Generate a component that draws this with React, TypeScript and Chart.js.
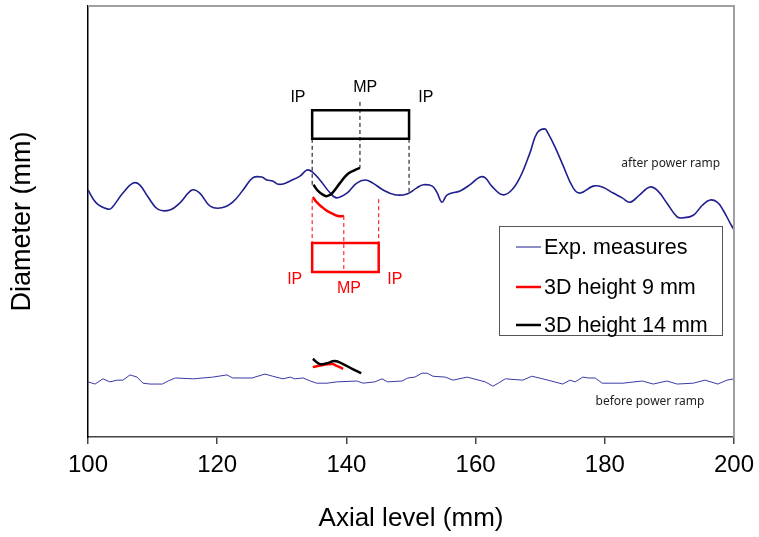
import { useEffect, useRef } from "react";
import { Chart, registerables } from "chart.js";

Chart.register(...registerables);

// Measured diameter profile after the power ramp (axial level in mm, diameter in relative units)
const afterAxial = [100.0, 101.3, 103.1, 103.7, 105.4, 107.0, 108.0, 109.3, 110.8, 112.7, 114.2, 116.1, 117.3, 118.9, 120.7, 122.4, 124.0, 125.5, 126.9, 127.7, 128.6, 129.3, 130.2, 131.3, 132.8, 133.9, 134.7, 135.9, 137.5, 138.5, 140.1, 141.6, 142.9, 144.1, 145.7, 147.5, 149.4, 150.9, 151.9, 153.3, 154.0, 154.8, 155.6, 157.6, 159.1, 160.7, 161.5, 162.5, 164.2, 165.6, 166.9, 168.4, 169.5, 170.7, 171.2, 172.3, 173.5, 175.1, 176.2, 178.2, 179.6, 181.3, 182.7, 183.9, 185.4, 187.0, 188.2, 189.6, 191.2, 192.1, 193.7, 195.1, 196.3, 197.4, 198.3, 199.4, 200.0];
const afterDiam = [57.6, 54.6, 53.2, 53.5, 56.9, 59.2, 58.8, 56.0, 53.2, 53.0, 54.6, 57.6, 56.9, 53.9, 53.5, 54.8, 57.6, 60.4, 60.6, 59.9, 59.7, 59.0, 59.0, 59.7, 60.8, 62.2, 61.8, 59.9, 56.9, 55.8, 56.9, 59.2, 59.9, 59.2, 57.6, 56.5, 56.7, 58.1, 58.8, 58.5, 57.1, 54.8, 56.5, 57.4, 58.8, 60.6, 60.4, 58.5, 56.5, 57.6, 60.6, 66.1, 70.7, 71.7, 70.7, 67.5, 63.4, 58.1, 56.9, 58.5, 58.3, 56.9, 55.8, 54.8, 56.5, 58.3, 57.4, 54.6, 51.4, 51.2, 51.8, 54.1, 55.3, 54.8, 53.0, 50.0, 48.4];

// Measured diameter profile before the power ramp
const beforeAxial = [100.0, 101.1, 102.3, 103.4, 104.5, 105.4, 106.5, 107.6, 108.5, 109.6, 111.5, 112.4, 113.5, 116.3, 119.3, 121.5, 122.4, 125.4, 127.4, 128.6, 130.2, 131.3, 132.0, 133.3, 134.4, 135.4, 137.0, 138.5, 141.6, 142.6, 144.4, 145.5, 146.4, 148.6, 149.5, 150.6, 151.7, 152.5, 153.4, 155.3, 156.5, 158.7, 161.5, 162.7, 163.5, 164.6, 167.3, 168.7, 170.4, 173.5, 174.6, 175.4, 176.6, 177.4, 178.5, 179.6, 181.3, 182.8, 185.8, 187.5, 189.6, 191.2, 193.7, 195.5, 197.5, 198.9, 200.0];
const beforeDiam = [13.4, 12.9, 14.1, 13.4, 13.8, 13.8, 15.0, 14.5, 13.1, 12.9, 12.9, 13.6, 14.3, 14.1, 14.5, 15.0, 14.3, 14.3, 15.2, 14.7, 14.1, 14.5, 14.1, 14.3, 13.6, 13.1, 13.1, 13.4, 13.6, 13.1, 13.4, 14.1, 13.4, 13.6, 14.3, 14.5, 15.4, 15.4, 14.7, 14.5, 13.8, 14.5, 13.4, 12.4, 13.1, 14.1, 13.8, 14.7, 14.1, 12.9, 13.8, 13.4, 14.5, 14.3, 14.3, 13.1, 13.1, 13.1, 13.6, 12.9, 13.6, 12.9, 13.1, 13.8, 12.9, 13.8, 14.1];

// 3D simulation, pellet height 14 mm (after / before ramp)
const sim14AfterAxial = [134.9, 135.6, 136.4, 137.0, 137.8, 139.0, 140.2, 141.3, 142.1];
const sim14AfterDiam = [58.8, 57.4, 56.5, 56.2, 56.9, 59.2, 61.3, 62.2, 62.7];
const sim14BeforeAxial = [134.8, 135.9, 137.0, 138.2, 139.5, 140.9, 142.3];
const sim14BeforeDiam = [18.7, 17.5, 17.7, 18.2, 17.5, 16.4, 15.4];

// 3D simulation, pellet height 9 mm (after / before ramp)
const sim9AfterAxial = [134.8, 135.4, 136.2, 137.0, 137.9, 138.7, 139.6];
const sim9AfterDiam = [56.0, 54.8, 53.7, 52.8, 52.1, 51.6, 51.6];
const sim9BeforeAxial = [134.8, 136.4, 137.8, 138.5, 139.5];
const sim9BeforeDiam = [16.8, 17.3, 17.5, 17.1, 16.4];

// Pellet sketches: inter-pellet (IP) axial levels and box bottom/top
const pellet14IP = [134.7, 149.7];
const pellet14Box = [69.4, 76.0];
const pellet9IP = [134.7, 145.0];
const pellet9Box = [38.7, 45.4];

// Dashed guides: [axial, from, to]
const guides14 = [
  [134.7, 69.4, 58.8],
  [149.7, 69.4, 56.7],
  [142.1, 77.9, 62.7],
];
const guides9 = [
  [134.7, 55.5, 45.4],
  [145.0, 55.5, 45.4],
  [139.6, 51.6, 38.7],
];

// Text labels: [text, axial, diameter]
const blackLabels: [string, number, number][] = [
  ["IP", 132.5, 78.8],
  ["MP", 142.9, 81.3],
  ["IP", 152.3, 78.8],
];
const redLabels: [string, number, number][] = [
  ["IP", 132.0, 36.9],
  ["MP", 140.4, 35.0],
  ["IP", 147.5, 36.9],
];
const noteLabels: [string, number, number][] = [
  ["after power ramp", 190.2, 63.8],
  ["before power ramp", 187.0, 8.8],
];

const legendItems = [
  { label: "Exp. measures", color: "#1f1f8f", width: 1 },
  { label: "3D height 9 mm", color: "#ff0000", width: 2.5 },
  { label: "3D height 14 mm", color: "#000000", width: 2.5 },
];

const xTicks = [100, 120, 140, 160, 180, 200];

const FONT = "'Liberation Sans', Arial, sans-serif";

const xy = (xs: number[], ys: number[]) => xs.map((x, i) => ({ x, y: ys[i] }));
const box = (ip: number[], yb: number[]) => [
  { x: ip[0], y: yb[1] },
  { x: ip[1], y: yb[1] },
  { x: ip[1], y: yb[0] },
  { x: ip[0], y: yb[0] },
  { x: ip[0], y: yb[1] },
];

const decorPlugin = {
  id: "decor",
  afterDatasetsDraw(chart: any) {
    const { ctx, chartArea, scales } = chart;
    const sx = scales.x;
    const sy = scales.y;
    ctx.save();
    // light frame on top and right
    ctx.strokeStyle = "#a0a0a0";
    ctx.lineWidth = 2;
    ctx.beginPath();
    ctx.moveTo(chartArea.left, chartArea.top);
    ctx.lineTo(chartArea.right, chartArea.top);
    ctx.lineTo(chartArea.right, chartArea.bottom);
    ctx.stroke();

    ctx.textAlign = "center";
    ctx.textBaseline = "middle";
    ctx.font = `16px ${FONT}`;
    ctx.fillStyle = "#000";
    for (const [t, a, d] of blackLabels) {
      ctx.fillText(t, sx.getPixelForValue(a), sy.getPixelForValue(d));
    }
    ctx.fillStyle = "#ff0000";
    for (const [t, a, d] of redLabels) {
      ctx.fillText(t, sx.getPixelForValue(a), sy.getPixelForValue(d));
    }
    ctx.font = "12px 'Noto Sans', 'Open Sans', sans-serif";
    ctx.fillStyle = "#222";
    for (const [t, a, d] of noteLabels) {
      ctx.fillText(t, sx.getPixelForValue(a), sy.getPixelForValue(d));
    }
    ctx.restore();
  },
  afterDraw(chart: any) {
    const { ctx } = chart;
    const left = 499;
    const top = 226;
    const right = 722;
    const bottom = 335;
    const rows = [247, 287, 325];
    ctx.save();
    ctx.fillStyle = "#fff";
    ctx.fillRect(left, top, right - left, bottom - top);
    ctx.strokeStyle = "#555";
    ctx.lineWidth = 1;
    ctx.strokeRect(left + 0.5, top + 0.5, right - left, bottom - top);
    ctx.font = `21.5px ${FONT}`;
    ctx.textAlign = "left";
    ctx.textBaseline = "middle";
    legendItems.forEach((item, i) => {
      ctx.strokeStyle = item.color;
      ctx.lineWidth = item.width;
      ctx.beginPath();
      ctx.moveTo(516, rows[i]);
      ctx.lineTo(541, rows[i]);
      ctx.stroke();
      ctx.fillStyle = "#000";
      ctx.fillText(item.label, 544, rows[i] + 1);
    });
    ctx.restore();
  },
};

export default function App() {
  const canvasRef = useRef<HTMLCanvasElement | null>(null);

  useEffect(() => {
    const canvas = canvasRef.current;
    if (!canvas) return;

    const dashed = (g: number[], color: string, order: number) => ({
      data: [
        { x: g[0], y: g[1] },
        { x: g[0], y: g[2] },
      ],
      borderColor: color,
      borderWidth: 1,
      borderDash: [4, 3],
      tension: 0,
      order,
    });

    const chart = new Chart(canvas, {
      type: "line",
      data: {
        datasets: [
          {
            label: "Exp. measures",
            data: xy(afterAxial, afterDiam),
            borderColor: "#1f1f8f",
            borderWidth: 1.6,
            tension: 0.4,
            order: 6,
          },
          {
            label: "Exp. measures (before)",
            data: xy(beforeAxial, beforeDiam),
            borderColor: "#3a3aa6",
            borderWidth: 1,
            tension: 0,
            order: 6,
          },
          {
            label: "pellet 14",
            data: box(pellet14IP, pellet14Box),
            borderColor: "#000",
            borderWidth: 2.5,
            borderCapStyle: "square",
            borderJoinStyle: "miter",
            tension: 0,
            order: 4,
          },
          {
            label: "pellet 9",
            data: box(pellet9IP, pellet9Box),
            borderColor: "#ff0000",
            borderWidth: 2.5,
            borderCapStyle: "square",
            borderJoinStyle: "miter",
            tension: 0,
            order: 4,
          },
          ...guides14.map((g) => dashed(g, "#000", 5)),
          ...guides9.map((g) => dashed(g, "#ff0000", 5)),
          {
            label: "3D height 14 mm",
            data: xy(sim14AfterAxial, sim14AfterDiam),
            borderColor: "#000",
            borderWidth: 2.5,
            tension: 0.4,
            order: 1,
          },
          {
            label: "3D height 14 mm (before)",
            data: xy(sim14BeforeAxial, sim14BeforeDiam),
            borderColor: "#000",
            borderWidth: 2.5,
            tension: 0.4,
            order: 1,
          },
          {
            label: "3D height 9 mm",
            data: xy(sim9AfterAxial, sim9AfterDiam),
            borderColor: "#ff0000",
            borderWidth: 2.5,
            tension: 0.4,
            order: 2,
          },
          {
            label: "3D height 9 mm (before)",
            data: xy(sim9BeforeAxial, sim9BeforeDiam),
            borderColor: "#ff0000",
            borderWidth: 2.5,
            tension: 0.4,
            order: 2,
          },
        ] as any,
      },
      options: {
        responsive: false,
        animation: false,
        devicePixelRatio: 1,
        events: [],
        layout: { padding: { left: 0, top: 6, right: 25, bottom: 0 } },
        elements: { point: { radius: 0 } },
        plugins: {
          legend: { display: false },
          tooltip: { enabled: false },
        },
        scales: {
          x: {
            type: "linear",
            min: 100,
            max: 200,
            afterFit: (s: any) => {
              s.height = 100;
              s.paddingLeft = 0;
              s.paddingRight = 0;
            },
            afterBuildTicks: (s: any) => {
              s.ticks = xTicks.map((v) => ({ value: v }));
            },
            grid: {
              display: true,
              drawOnChartArea: false,
              drawTicks: true,
              tickLength: 7,
              color: "#444",
              lineWidth: 1.5,
            },
            border: { display: true, color: "#444", width: 1.5 },
            ticks: {
              padding: 7,
              color: "#000",
              font: { family: FONT, size: 24 },
              maxRotation: 0,
            },
            title: {
              display: true,
              text: "Axial level (mm)",
              color: "#000",
              font: { family: FONT, size: 26 },
              padding: { top: 0, bottom: 3 },
            },
          },
          y: {
            type: "linear",
            min: 0.7,
            max: 100,
            afterFit: (s: any) => {
              s.width = 88;
              s.paddingTop = 0;
              s.paddingBottom = 0;
            },
            grid: { display: false },
            border: { display: true, color: "#000", width: 1.5 },
            ticks: { display: false },
            title: {
              display: true,
              text: "Diameter (mm)",
              color: "#000",
              font: { family: FONT, size: 27 },
              padding: { top: 6, bottom: 0 },
            },
          },
        },
      } as any,
      plugins: [decorPlugin],
    });

    return () => chart.destroy();
  }, []);

  return (
    <div style={{ position: "absolute", left: 0, top: 0, width: 759, height: 537, background: "#fff" }}>
      <canvas ref={canvasRef} width={759} height={537} style={{ width: 759, height: 537, display: "block" }} />
    </div>
  );
}
